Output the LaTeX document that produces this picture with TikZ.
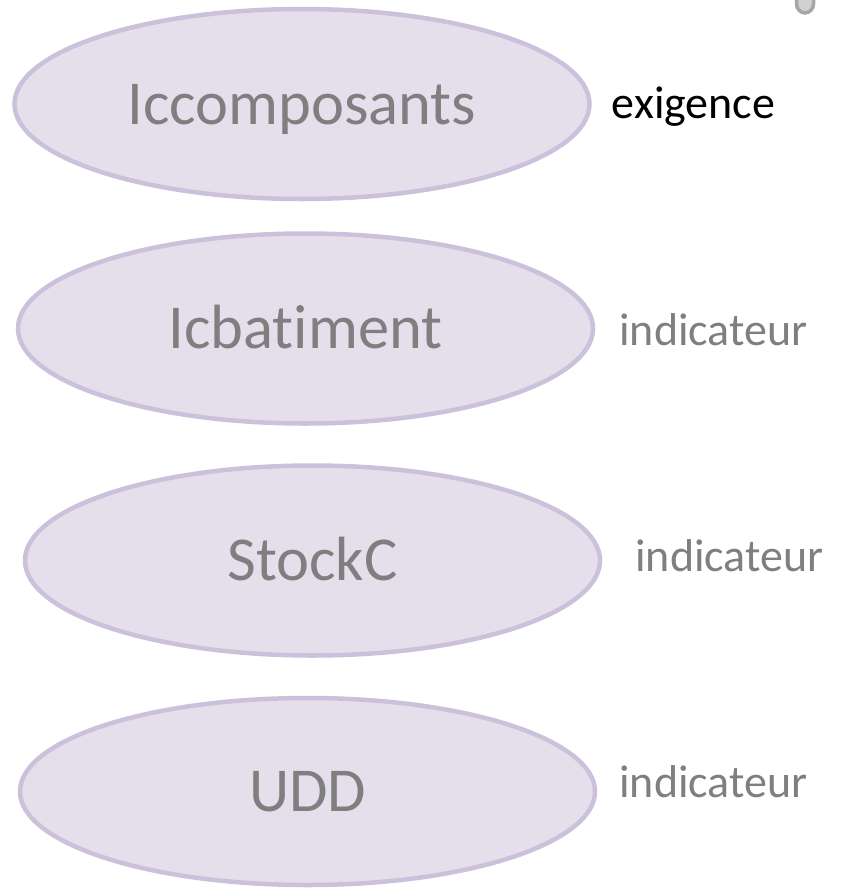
\documentclass[tikz,border=0pt]{standalone}
\usepackage{fontspec}
\setmainfont{Carlito}[Ligatures={NoCommon,NoRare,NoContextual}]
\usetikzlibrary{shapes.geometric,positioning}
\definecolor{lavfill}{RGB}{229,223,236}
\definecolor{lavline}{RGB}{204,193,218}
\definecolor{txtgray}{RGB}{127,127,127}

\begin{document}
\begin{tikzpicture}[
    x=1pt,y=-1pt,
    blob/.style={
      draw=lavline,
      fill=lavfill,
      ellipse,
      line width=4.5pt,
      inner sep=0pt,
      minimum width=575pt,
      minimum height=190pt,
      text=txtgray,
      font=\fontsize{62.5}{70}\selectfont,
      text height=40.2pt,
      text depth=0pt
    },
    tag/.style={
      inner sep=0pt,
      text=txtgray,
      font=\fontsize{46}{52}\selectfont,
      text height=21.4pt,
      text depth=0pt
    }
    ]
    \useasboundingbox (0,0) rectangle (842,889);
    \begin{scope}
    \clip (0,0) rectangle (842,889);
    \draw[draw=black!35,fill=black!18,line width=3.5pt,rounded corners=9pt]
      (796.5,-30) rectangle (813.5,13);
    \end{scope}

    \node[blob] (icc) at (302,104) {Iccomposants};
    \node[blob] (icb) at (305.5,328.5) {Icbatiment};
    \node[blob] (stock) at (312.5,560.5) {StockC};
    \node[blob,minimum height=187pt] (udd) at (307.5,791.5) {UDD};

    \node[tag,text=black,right=20pt of icc,yshift=-4pt] (exig) {exigence};
    \node[tag,right=24pt of icb,yshift=-6.5pt] (ind1) {indicateur};
    \node[tag,right=33pt of stock,yshift=-0.5pt] (ind2) {indicateur};
    \node[tag,right=22pt of udd,yshift=4.5pt] (ind3) {indicateur};
\end{tikzpicture}
\end{document}
